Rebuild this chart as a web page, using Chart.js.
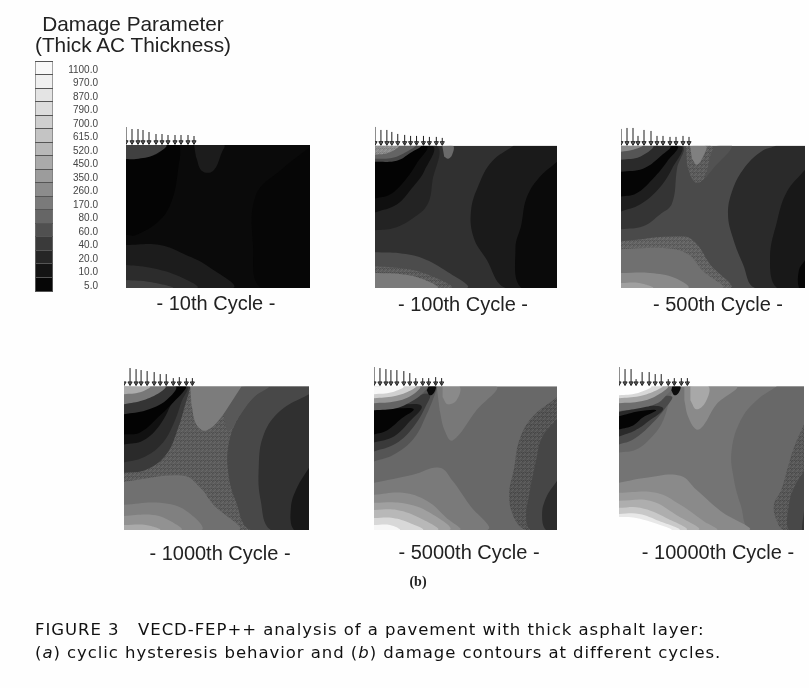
<!DOCTYPE html>
<html><head><meta charset="utf-8">
<script src="https://cdn.jsdelivr.net/npm/chart.js@4/dist/chart.umd.min.js"></script>
<style>
html,body{margin:0;padding:0;background:#fefefe;width:809px;height:688px;overflow:hidden}
canvas{position:absolute;filter:blur(.6px)}
.t{position:absolute;white-space:nowrap;font-family:"Liberation Sans",Arial,sans-serif;color:#222;filter:blur(.35px);transform:translate(-50%,-50%)}
.l{transform:translate(0,-50%)}
</style></head><body>
<script>
// Colour scale
const scaleLabels=["1100.0","970.0","870.0","790.0","700.0","615.0","520.0","450.0","350.0","260.0","170.0","80.0","60.0","40.0","20.0","10.0","5.0"];
const scaleGrays=[248,240,228,220,207,196,184,170,156,140,122,102,80,58,38,20,6];

// Load arrows
const arrowX=[0,6,12,17,23,30,36,42,49,55,62,68];
const arrows1=[17,15,15,14,12,10,10,9,9,9,9,8];
const arrows2=[18,15,15,13,11,10,9,9,9,8,8,7];
const arrows3=[16,17,17,9,15,14,9,9,8,8,9,8];
const arrows4=[3,17,16,15,14,13,11,11,7,8,7,7];
const arrows5=[18,17,16,15,15,14,12,7,7,7,8,7];
const arrows6=[18,16,16,6,13,13,11,11,6,7,7,7];

// Contour regions, back to front: gray level and outline (x, depth pairs)
const grays1=[10,4,6,28,64,28,44,66];
const stipple1=[];
const contours1=[
[0,0,184,0,184,143,0,143],
[0,12,30,10,41,0,53,0,52,25,46,55,34,75,10,90,0,90],
[184,2,155,25,130,50,127,100,135,143,184,143],
[68,0,98,0,96,7,87,26,76,26,70,12],
[0,0,40,0,28,10,10,14,0,14],
[0,100,34,100,60,110,80,120,107,143,0,143],
[0,120,20,122,50,130,71,143,0,143],
[0,135,24,137,47,143,0,143]];
const grays2=[48,26,10,35,15,3,70,100,140,106,76,92,122];
const stipple2=[8,11];
const contours2=[
[0,0,184,0,184,143,0,143],
[140,0,118,16,105,39,97,66,100,93,112,113,132,143,184,143,184,0],
[184,16,165,33,153,53,148,79,142,103,148,143,184,143],
[0,85,18,83,38,73,53,59,58,36,62,0,0,0],
[0,67,22,59,37,43,50,25,58,0,0,0],
[0,53,15,49,30,35,42,18,52,0,0,0],
[0,16,22,15,36,7,46,0,0,0],
[0,13,18,12,32,6,40,0,0,0],
[0,9,14,7,24,0,0,0],
[68,0,79,0,78,9,74,13,70,11],
[0,107,25,108,48,113,72,126,93,143,0,143],
[0,121,25,123,52,129,77,143,0,143],
[0,128,25,129,48,134,63,143,0,143]];
const grays3=[74,42,24,6,82,92,128,52,30,5,42,85,138,98,112,138,160];
const stipple3=[5,13];
const contours3=[
[0,0,184,0,184,143,0,143],
[155,0,140,6,122,24,111,46,107,69,112,93,122,119,134,143,184,143,184,0],
[184,24,166,46,156,76,149,113,156,143,184,143],
[184,115,178,125,178,143,184,143],
[91,0,111,0,92,23,84,33],
[65,0,91,0,89,11,83,33,76,37,71,33,66,19],
[69,0,85,0,83,9,76,19,71,13],
[0,84,22,81,39,69,51,58,56,23,61,0,0,0],
[0,66,19,59,37,44,51,23,60,0,0,0],
[0,51,15,48,32,33,46,16,56,0,0,0],
[0,26,22,23,39,11,49,0,0,0],
[0,14,19,11,32,0,0,0],
[0,6,12,4,21,0,0,0],
[0,96,62,91,75,98,89,119,109,143,0,143],
[0,104,45,103,67,109,82,126,101,143,0,143],
[0,128,29,128,54,133,67,143,0,143],
[0,138,18,138,32,143,0,143]];
const grays4=[92,72,48,24,124,88,58,42,17,3,52,120,172,112,128,146,170];
const stipple4=[0];
const contours4=[
[0,0,184,0,184,143,0,143],
[144,0,129,11,114,31,104,58,104,88,111,114,126,143,184,143,184,0],
[184,8,156,24,139,48,134,81,136,114,146,143,184,143],
[184,81,172,101,166,121,169,143,184,143],
[66,0,117,0,99,28,82,44,72,38,67,18],
[117,0,144,0,129,11,114,31,104,45,99,28],
[0,86,22,83,42,68,54,41,61,18,65,4,65,0,0,0],
[0,76,19,71,37,58,49,38,57,16,62,0,0,0],
[0,58,19,54,36,38,49,14,57,0,0,0],
[0,48,16,46,36,29,51,14,61,3,61,0,0,0],
[0,28,22,24,42,14,51,0,0,0],
[0,18,19,14,36,6,41,0,0,0],
[0,8,16,6,26,0,0,0],
[0,95,59,89,76,101,89,118,114,143,0,143],
[0,118,36,116,62,124,77,143,0,143],
[0,129,29,128,46,134,57,143,0,143],
[0,138,22,138,36,143,0,143]];
const grays5=[104,120,138,84,70,44,85,58,30,4,100,150,208,248,10,122,140,160,184,216,246];
const stipple5=[3];
const contours5=[
[0,0,184,0,184,143,0,143],
[63,0,123,0,103,24,79,54,71,44,66,24],
[69,0,86,0,83,14,74,18,69,11],
[184,11,159,31,146,54,141,81,136,108,141,131,153,143,184,143],
[184,33,169,51,163,74,156,108,153,131,158,143,184,143],
[184,94,173,111,169,128,173,143,184,143],
[0,75,20,68,40,52,53,28,63,3,63,0,0,0],
[0,65,22,57,40,40,52,20,56,8,40,10,0,15],
[0,56,20,50,36,35,48,20,30,18,0,20],
[0,48,13,44,28,32,40,23,25,22,0,24],
[0,24,22,22,38,15,50,6,53,0,0,0],
[0,17,22,15,38,9,46,0,0,0],
[0,12,20,10,35,5,42,0,0,0],
[0,8,18,6,30,0,0,0],
[55,0,62,0,60,7,56,9,53,4],
[0,96,39,88,66,81,79,94,96,118,114,143,0,143],
[0,108,29,106,53,114,73,131,86,143,0,143],
[0,116,26,116,53,124,76,143,0,143],
[0,123,23,123,46,131,64,143,0,143],
[0,131,19,131,36,136,49,143,0,143],
[0,138,16,138,26,143,0,143]];
const grays6=[116,104,88,72,51,138,168,102,74,42,4,110,165,216,254,12,138,154,174,200,232,254];
const stipple6=[2];
const contours6=[
[0,0,184,0,184,143,0,143],
[157,0,137,14,121,34,112,64,114,91,121,118,131,143,184,143,184,0],
[184,38,174,61,167,84,161,104,154,118,157,134,164,143,184,143],
[184,84,174,101,169,118,169,143,184,143],
[184,124,182,143,184,143],
[65,0,117,0,97,18,84,39,77,43,69,31,65,14],
[71,0,89,0,86,16,77,23,71,14],
[0,66,17,63,34,49,44,34,52,8,56,0,0,0],
[0,58,14,53,30,40,46,22,52,10,0,16],
[0,50,16,44,28,36,44,22,22,20,0,26],
[0,43,14,39,24,31,37,24,20,25,0,30],
[0,25,20,22,38,17,48,8,54,0,0,0],
[0,17,22,15,38,9,48,0,0,0],
[0,12,20,10,35,5,43,0,0,0],
[0,9,18,7,32,0,0,0],
[53,0,61,0,59,7,55,9,52,4],
[0,96,27,91,61,89,77,103,101,124,129,143,0,143],
[0,106,37,106,61,118,84,134,97,143,0,143],
[0,114,31,114,57,128,79,143,0,143],
[0,121,21,121,47,131,67,143,0,143],
[0,127,20,127,40,134,60,143,0,143],
[0,130,17,131,44,139,52,143,0,143]];

const cycleLabels=["- 10th Cycle -","- 100th Cycle -","- 500th Cycle -","- 1000th Cycle -","- 5000th Cycle -","- 10000th Cycle -"];

function stipplePattern(g){
  const c=document.createElement('canvas');c.width=c.height=4;
  const x=c.getContext('2d');
  x.fillStyle=`rgb(${g},${g},${g})`;x.fillRect(0,0,4,4);
  const d=`rgb(${g-14},${g-14},${g-14})`,l=`rgb(${g+12},${g+12},${g+12})`;
  [[0,0,d],[2,1,l],[1,2,l],[3,3,d],[3,0,l],[1,3,d]].forEach(p=>{x.fillStyle=p[2];x.fillRect(p[0],p[1],1,1)});
  return x.createPattern(c,'repeat');
}
function addCanvas(left,top,w,h){
  const c=document.createElement('canvas');c.width=w;c.height=h;
  c.style.left=left+'px';c.style.top=top+'px';
  document.body.appendChild(c);return c;
}
function addText(txt,x,y,css,cls){
  const d=document.createElement('div');d.className='t '+(cls||'');d.innerHTML=txt;
  d.style.left=x+'px';d.style.top=y+'px';d.style.cssText+=css;document.body.appendChild(d);return d;
}
const headroom=25;
function panel(box,grays,stip,contours,lens){
  const n=contours.length;
  const ds=contours.map((flat,i)=>{
    const pts=[];for(let k=0;k<flat.length;k+=2)pts.push({x:flat[k],y:flat[k+1]});
    const g=grays[i];
    return {data:pts,showLine:true,fill:'shape',borderWidth:0,pointRadius:0,tension:i===0?0:0.4,
      backgroundColor:stip.includes(i)?stipplePattern(g):`rgb(${g},${g},${g})`,order:n-i+3};
  });
  // page-coloured strip above the panel: keeps the rounded contours inside the frame
  ds.push({data:[{x:0,y:-headroom},{x:184,y:-headroom},{x:184,y:0},{x:0,y:0}],showLine:true,fill:'shape',
    borderWidth:0,pointRadius:0,backgroundColor:'#fefefe',order:2});
  const stems=[],tips=[];
  arrowX.forEach((x,i)=>{
    stems.push({x,y:-1},{x,y:-1-lens[i]},{x:NaN,y:NaN});
    tips.push({x,y:-3});
  });
  ds.push({data:stems,showLine:true,borderColor:'#1c1c1c',borderWidth:1,pointRadius:0,spanGaps:false,order:1});
  ds.push({data:tips,showLine:false,pointStyle:'triangle',rotation:180,pointRadius:2.4,borderWidth:1,
    borderColor:'#222',backgroundColor:'rgba(70,70,70,.6)',order:0});
  new Chart(addCanvas(box[0],box[1]-headroom,box[2],box[3]+headroom),{
    type:'scatter',data:{datasets:ds},
    options:{responsive:false,animation:false,events:[],layout:{padding:0,autoPadding:false},
      plugins:{legend:{display:false},tooltip:{enabled:false},title:{display:false}},
      scales:{x:{type:'linear',display:false,min:0,max:184},
              y:{type:'linear',display:false,reverse:true,min:-headroom,max:143}}}
  });
}
const boxes=[[126,145,184,143],[375,146,182,142],[621,146,184,142],[124,386,185,144],[374,386,183,144],[619,386,185,144]];
panel(boxes[0],grays1,stipple1,contours1,arrows1);
panel(boxes[1],grays2,stipple2,contours2,arrows2);
panel(boxes[2],grays3,stipple3,contours3,arrows3);
panel(boxes[3],grays4,stipple4,contours4,arrows4);
panel(boxes[4],grays5,stipple5,contours5,arrows5);
panel(boxes[5],grays6,stipple6,contours6,arrows6);

// colour scale as a one-column bar chart
new Chart(addCanvas(35,55,63,242),{
  type:'bar',
  data:{labels:scaleLabels,datasets:[{data:scaleLabels.map(()=>1),
    backgroundColor:scaleGrays.map(g=>`rgb(${g},${g},${g})`),borderColor:'#777',borderSkipped:false,
    borderWidth:{left:1,right:1,top:0,bottom:0},barPercentage:1,categoryPercentage:1}]},
  options:{indexAxis:'y',responsive:false,animation:false,events:[],layout:{padding:0,autoPadding:false},
    plugins:{legend:{display:false},tooltip:{enabled:false}},
    scales:{x:{display:false,min:0,max:1},
      y:{position:'right',afterFit(a){a.width=45},border:{display:false},
         grid:{color:'#555',z:1,drawTicks:false,lineWidth:1},
         ticks:{crossAlign:'far',padding:0,autoSkip:false,color:'#444',labelOffset:2,
                font:{family:'"Liberation Sans"',size:10}}}}}
});

addText('Damage Parameter',133,24,'font-size:20.8px;');
addText('(Thick AC Thickness)',133,45,'font-size:20.8px;');
const labelPos=[[216,303],[463,304],[718,304],[220,553],[469,552],[718,552]];
cycleLabels.forEach((s,i)=>addText(s,labelPos[i][0],labelPos[i][1],'font-size:20px;'));
addText('(b)',418,582,'font-family:"Liberation Serif",serif;font-weight:bold;font-size:14px;');
const capCss='font-family:"DejaVu Sans";font-size:16.5px;letter-spacing:.95px;color:#111;';
addText('FIGURE 3&nbsp;&nbsp; VECD-FEP++ analysis of a pavement with thick asphalt layer:',35,629,capCss,'l');
addText('(<i>a</i>) cyclic hysteresis behavior and (<i>b</i>) damage contours at different cycles.',35,652,capCss,'l');
</script>
</body></html>
